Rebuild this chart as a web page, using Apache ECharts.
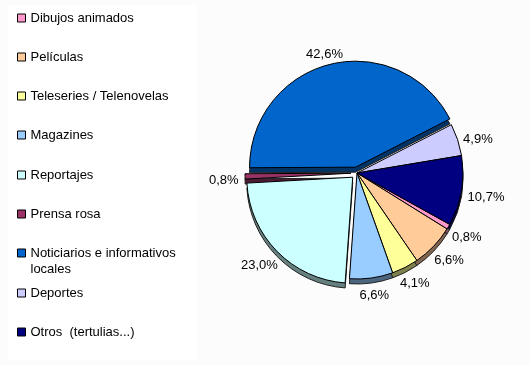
<!DOCTYPE html>
<html>
<head>
<meta charset="utf-8">
<style>html,body{margin:0;padding:0;background:#fcfcfc;}#chart{width:530px;height:365px;}</style>
<script src="https://cdn.jsdelivr.net/npm/echarts@6/dist/echarts.min.js"></script>
</head>
<body>
<div id="chart"></div>
<script>
const categories = ['Dibujos animados', 'Películas', 'Teleseries / Telenovelas', 'Magazines', 'Reportajes', 'Prensa rosa', 'Noticiarios e informativos locales', 'Deportes', 'Otros  (tertulias...)'];
const values = [0.8, 6.6, 4.1, 6.6, 23.0, 0.8, 42.6, 4.9, 10.7];
const exploded = ['Reportajes', 'Prensa rosa', 'Noticiarios e informativos locales'];
const legendLabels = ['Dibujos animados', 'Películas', 'Teleseries / Telenovelas', 'Magazines', 'Reportajes', 'Prensa rosa', 'Noticiarios e informativos\nlocales', 'Deportes', 'Otros  (tertulias...)'];

const colors = ['#FF99CC', '#FFCC99', '#FFFF99', '#99CCFF', '#CCFFFF', '#993366', '#0066CC', '#CCCCFF', '#000080'];
const sideColors = ['#805066', '#806650', '#80804D', '#4D6680', '#668080', '#4D1A33', '#003366', '#666680', '#000040'];
const legendTops = [10, 49, 88, 127, 167, 206, 245, 285, 324];

const FONT = 'Liberation Sans, Arial, sans-serif';
const cx = 357, cy = 173, R = 106, depth = 5, explodeOffset = 6, startAngle = -29;
const labelRx = 112.5, labelRy = 113.5, labelDy = 4;

const total = values.reduce((a, b) => a + b, 0);
const midAngles = [];
(function(){
  let acc = 0;
  values.forEach(v => { midAngles.push(startAngle - (acc + v / 2) / total * 360); acc += v; });
})();

const topData = categories.map((c, i) => ({
  name: c, value: values[i], selected: exploded.includes(c),
  itemStyle: {color: colors[i]}
}));
const sideData = categories.map((c, i) => ({
  name: c, value: values[i], selected: exploded.includes(c),
  itemStyle: {color: sideColors[i], borderColor: '#222'}
}));
const labelData = categories.map((c, i) => ({name: c, value: values[i]}));

const legends = categories.map((c, i) => ({
  data: [c],
  left: 17, top: legendTops[i],
  orient: 'vertical',
  icon: 'rect', itemWidth: 8, itemHeight: 8, itemGap: 0,
  padding: 0,
  itemStyle: {borderColor: '#000', borderWidth: 1},
  formatter: function(){ return i === 6 ? ' \n' + legendLabels[i] : legendLabels[i]; },
  textStyle: {fontFamily: FONT, fontSize: 13, color: '#000', lineHeight: 16, padding: 0},
  selectedMode: false
}));
legends[6].top = legendTops[6] - 16;

function placeLabel(params) {
  const i = params.dataIndex;
  const a = midAngles[i] * Math.PI / 180;
  const ux = Math.cos(a), uy = -Math.sin(a);
  const w = params.labelRect.width / 2, h = params.labelRect.height / 2;
  const off = exploded.includes(categories[i]) ? explodeOffset : 0;
  return {
    x: cx + off * ux + (labelRx + w) * ux,
    y: cy + off * uy + labelDy + (labelRy + h) * uy,
    align: 'center', verticalAlign: 'middle'
  };
}

const chart = echarts.init(document.getElementById('chart'), null, {renderer: 'canvas'});
chart.setOption({
  backgroundColor: '#fcfcfc',
  animation: false,
  graphic: [{type: 'rect', shape: {x: 8, y: 5, width: 189, height: 355}, style: {fill: '#ffffff'}, z: -10, silent: true}],
  legend: legends,
  series: [
    {
      type: 'pie', z: 3,
      center: [cx, cy], radius: R,
      startAngle: startAngle, clockwise: true,
      selectedMode: 'multiple', selectedOffset: explodeOffset,
      itemStyle: {borderColor: '#000', borderWidth: 1},
      label: {show: false}, labelLine: {show: false},
      emphasis: {disabled: true},
      data: topData
    },
    {
      type: 'pie', z: 2, silent: true,
      center: [cx, cy + depth], radius: R,
      startAngle: startAngle, clockwise: true,
      selectedMode: 'multiple', selectedOffset: explodeOffset,
      itemStyle: {borderColor: '#222', borderWidth: 1},
      label: {show: false}, labelLine: {show: false},
      emphasis: {disabled: true},
      data: sideData
    },
    {
      type: 'pie', z: 4, silent: true,
      center: [cx, cy], radius: R,
      startAngle: startAngle, clockwise: true,
      selectedMode: false, avoidLabelOverlap: false,
      itemStyle: {color: 'rgba(0,0,0,0)', borderWidth: 0},
      label: {
        show: true, position: 'outside', fontFamily: FONT, fontSize: 13, color: '#000',
        formatter: p => p.value.toFixed(1).replace('.', ',') + '%'
      },
      labelLine: {show: false, length: 6, length2: 0},
      labelLayout: placeLabel,
      emphasis: {disabled: true},
      data: labelData
    }
  ]
});
</script>
</body>
</html>
